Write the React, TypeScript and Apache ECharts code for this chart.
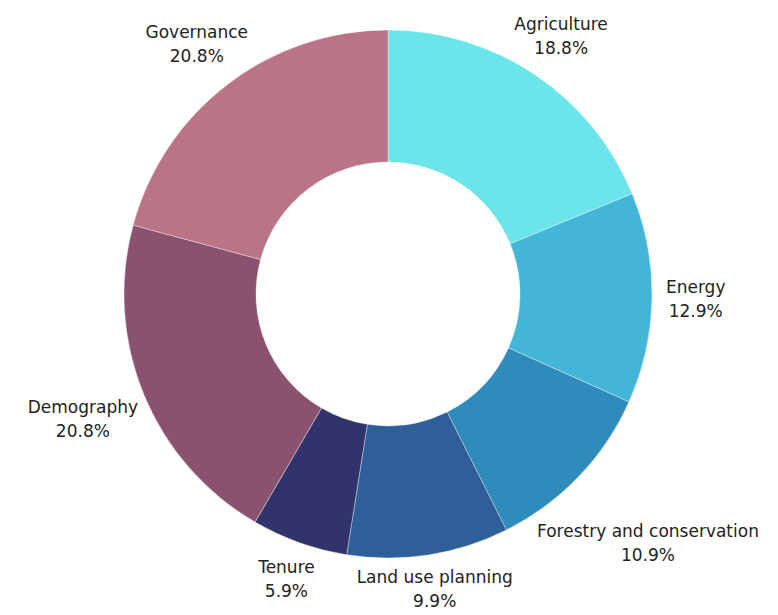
import React, { useEffect, useRef } from "react";
import * as echarts from "echarts";

const categories = [
  "Agriculture",
  "Energy",
  "Forestry and conservation",
  "Land use planning",
  "Tenure",
  "Demography",
  "Governance",
];
const values = [18.8, 12.9, 10.9, 9.9, 5.9, 20.8, 20.8];
const colors = ["#6be5e9", "#43b6d7", "#2e8bbb", "#2f5f99", "#31336a", "#8a526f", "#b97485"];

const W = 778;
const H = 615;
const CENTER = [388, 294];
const R_OUT = 264;
const R_IN = 132;
const GAP = 14;

export default function App() {
  const ref = useRef<HTMLDivElement>(null);
  useEffect(() => {
    const chart = echarts.init(ref.current!, null, { renderer: "svg" });
    const total = values.reduce((a, b) => a + b, 0);
    const mids: number[] = [];
    let acc = 0;
    values.forEach((v) => {
      mids.push(((acc + v / 2) / total) * Math.PI * 2);
      acc += v;
    });
    chart.setOption({
      animation: false,
      series: [
        {
          type: "pie",
          center: CENTER,
          radius: [R_IN, R_OUT],
          startAngle: 90,
          clockwise: true,
          avoidLabelOverlap: false,
          data: categories.map((n, i) => ({
            name: n,
            value: values[i],
            itemStyle: { color: colors[i] },
          })),
          itemStyle: { borderColor: "rgba(255,255,255,0.6)", borderWidth: 0.6 },
          label: {
            show: true,
            position: "outside",
            formatter: (p: any) => `${p.name}\n${Number(p.value).toFixed(1)}%`,
            fontFamily: "DejaVu Sans",
            fontSize: 17,
            lineHeight: 24,
            color: "#222",
            align: "center",
          },
          labelLine: { show: false },
          labelLayout: (params: any) => {
            const a = mids[params.dataIndex];
            const ux = Math.sin(a);
            const uy = -Math.cos(a);
            const hw = params.labelRect.width / 2;
            const hh = params.labelRect.height / 2;
            const d = R_OUT + GAP + Math.sqrt((hw * ux) ** 2 + (hh * uy) ** 2);
            let x = CENTER[0] + ux * d;
            let y = CENTER[1] + uy * d;
            x = Math.min(Math.max(x, hw + 2), W - hw - 2);
            y = Math.min(Math.max(y, hh + 2), H - hh - 2);
            return { x, y, align: "center", verticalAlign: "middle" };
          },
          emphasis: { disabled: true },
        },
      ],
    });
    return () => chart.dispose();
  }, []);
  return (
    <div
      ref={ref}
      style={{ position: "absolute", left: 0, top: 0, width: W, height: H, background: "#fff" }}
    />
  );
}
